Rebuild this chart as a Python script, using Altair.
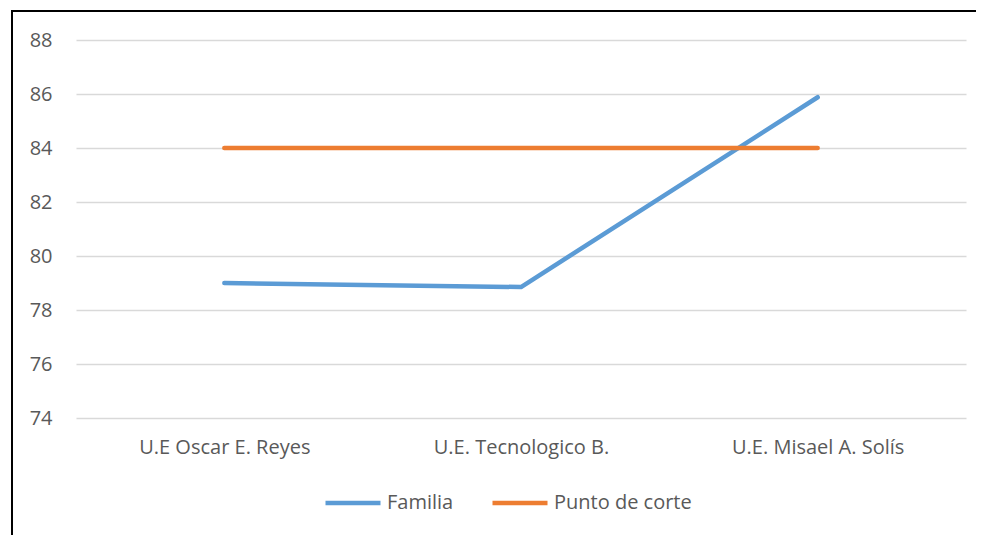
import altair as alt
import pandas as pd

categories = ["U.E Oscar E. Reyes", "U.E. Tecnologico B.", "U.E. Misael A. Solís"]
familia = [79.0, 78.85, 85.88]
punto_de_corte = [84.0, 84.0, 84.0]
series_names = ["Familia", "Punto de corte"]
y_ticks = [74, 76, 78, 80, 82, 84, 86, 88]

rows = []
for c, v in zip(categories, familia):
    rows.append({"cat": c, "serie": series_names[0], "val": v})
for c, v in zip(categories, punto_de_corte):
    rows.append({"cat": c, "serie": series_names[1], "val": v})
df = pd.DataFrame(rows)

FONT = "Open Sans"
GREY = "#595959"
FS = 20

lines = alt.Chart(df).mark_line(strokeWidth=4.5, strokeCap="round", strokeJoin="round").encode(
    x=alt.X("cat:N", sort=categories, title=None,
            scale=alt.Scale(paddingInner=0, paddingOuter=0.5),
            axis=alt.Axis(labelAngle=0, domain=False, ticks=False, grid=False,
                          labelPadding=19, labelFontSize=FS, labelColor=GREY, labelFont=FONT)),
    y=alt.Y("val:Q", title=None,
            scale=alt.Scale(domain=[74, 88], nice=False, zero=False),
            axis=alt.Axis(values=y_ticks, domain=False, ticks=False, gridColor="#d9d9d9",
                          gridWidth=1.5, labelPadding=24, labelFontSize=FS, labelColor=GREY,
                          labelFont=FONT)),
    color=alt.Color("serie:N", sort=series_names,
                    scale=alt.Scale(domain=series_names, range=["#5b9bd5", "#ed7d31"]),
                    legend=alt.Legend(title=None, orient="none", direction="horizontal",
                                      legendX=247, legendY=433, symbolType="stroke",
                                      symbolSize=3025, symbolStrokeWidth=4.5,
                                      labelFontSize=FS, labelColor=GREY, labelFont=FONT,
                                      labelOffset=4, columnPadding=29)),
    order=alt.Order("serie:N"),
)

base = alt.Chart(pd.DataFrame({"k": [0]}))
top_edge = base.mark_rect(color="black", clip=False).encode(
    x=alt.value(-65), x2=alt.value(1000), y=alt.value(-30), y2=alt.value(-28)
)
left_edge = base.mark_rect(color="black", clip=False).encode(
    x=alt.value(-65), x2=alt.value(-63), y=alt.value(-30), y2=alt.value(600)
)

chart = alt.layer(top_edge, left_edge, lines).properties(
    width=890, height=378,
    autosize=alt.AutoSizeParams(type="none"),
    padding={"left": 68, "top": 32, "right": 10, "bottom": 117},
).configure_view(stroke=None)

chart.save("out.html", embed_options={"renderer": "svg", "actions": False})
